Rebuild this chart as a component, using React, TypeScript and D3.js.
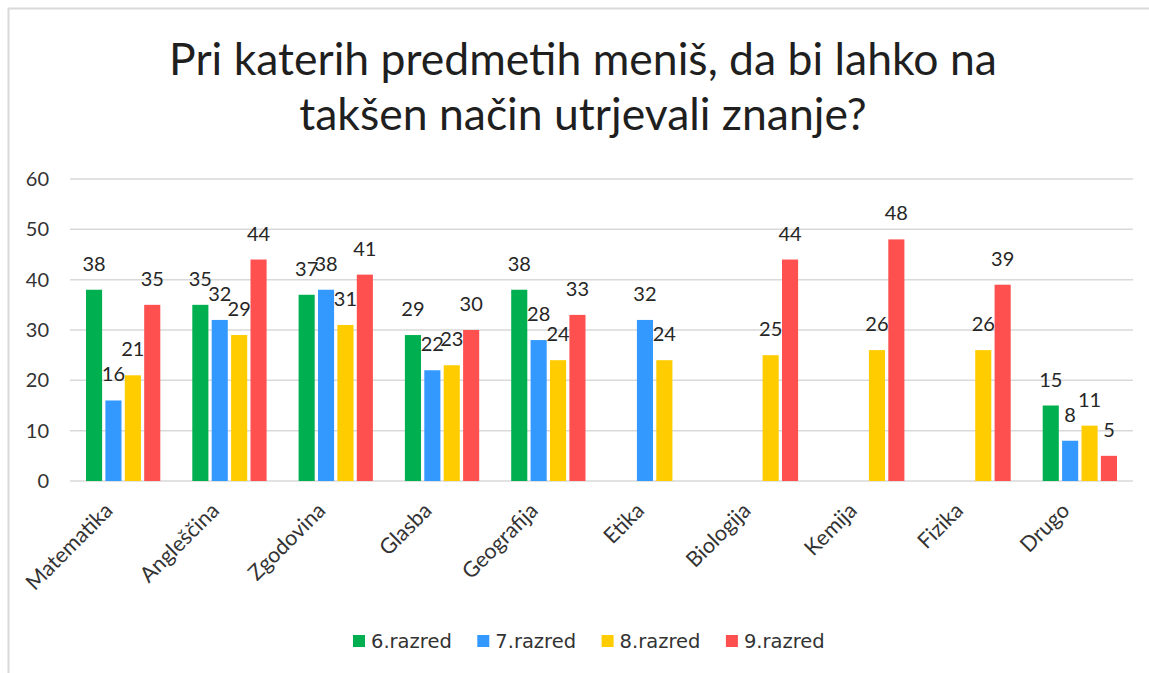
import React from 'react';
import * as d3 from 'd3';

const titleLines = ['Pri katerih predmetih meniš, da bi lahko na', 'takšen način utrjevali znanje?'];
const categories = ['Matematika', 'Angleščina', 'Zgodovina', 'Glasba', 'Geografija', 'Etika', 'Biologija', 'Kemija', 'Fizika', 'Drugo'];
const seriesNames = ['6.razred', '7.razred', '8.razred', '9.razred'];
const razred6: (number | null)[] = [38, 35, 37, 29, 38, null, null, null, null, 15];
const razred7: (number | null)[] = [16, 32, 38, 22, 28, 32, null, null, null, 8];
const razred8: (number | null)[] = [21, 29, 31, 23, 24, 24, 25, 26, 26, 11];
const razred9: (number | null)[] = [35, 44, 41, 30, 33, null, 44, 48, 39, 5];
const seriesColors = ['#00b050', '#3399ff', '#ffcc00', '#ff5050'];
const yTicks = [0, 10, 20, 30, 40, 50, 60];

const W = 1149;
const H = 673;
const labelFont = 'Lato, "Noto Sans", sans-serif';

export default function App() {
  const seriesValues = [razred6, razred7, razred8, razred9];
  const y = d3.scaleLinear().domain([0, 60]).range([481, 179]);
  const x0 = d3.scaleBand<string>().domain(categories).range([70, 1133]).padding(0);
  const x1 = d3
    .scaleBand<string>()
    .domain(seriesNames)
    .range([16, x0.bandwidth() - 16])
    .paddingInner(0.17);

  const legendX = d3.scaleLinear().domain([0, 1]).range([353, 477.3]);

  return (
    <svg width={W} height={H} style={{ position: 'absolute', left: 0, top: 0, display: 'block' }}>
      <rect x={0} y={0} width={W} height={H} fill="#ffffff" />
      <line x1={8} x2={W} y1={8.5} y2={8.5} stroke="#d9d9d9" strokeWidth={2} />
      <line x1={8.5} x2={8.5} y1={8} y2={H} stroke="#d9d9d9" strokeWidth={2} />

      {titleLines.map((t, i) => (
        <text
          key={t}
          x={583}
          y={75 + i * 55}
          textAnchor="middle"
          fontFamily={labelFont}
          fontSize={44.5}
          fill="#1f1f1f"
        >
          {t}
        </text>
      ))}

      {yTicks.map((t) => (
        <g key={t}>
          <line x1={70} x2={1133} y1={y(t)} y2={y(t)} stroke="#d9d9d9" strokeWidth={1.5} />
          <text
            x={49}
            y={y(t)}
            dy="0.35em"
            textAnchor="end"
            fontFamily={labelFont}
            fontSize={20}
            fill="#333333"
          >
            {t}
          </text>
        </g>
      ))}

      {categories.map((c, ci) => (
        <g key={c} transform={`translate(${x0(c)},0)`}>
          {seriesNames.map((s, si) => {
            const v = seriesValues[si][ci];
            if (v === null || v === undefined) return null;
            const bx = x1(s)!;
            const bw = x1.bandwidth();
            return (
              <g key={s}>
                <rect x={bx} y={y(v)} width={bw} height={y(0) - y(v)} fill={seriesColors[si]} />
                <text
                  x={bx + bw / 2}
                  y={y(v) - 19}
                  textAnchor="middle"
                  fontFamily={labelFont}
                  fontSize={20}
                  fill="#262626"
                >
                  {v}
                </text>
              </g>
            );
          })}
        </g>
      ))}

      {categories.map((c) => {
        const px = x0(c)! + x0.bandwidth() / 2 - 9;
        const py = 512;
        return (
          <text
            key={c}
            transform={`translate(${px},${py}) rotate(-45)`}
            textAnchor="end"
            fontFamily={labelFont}
            fontSize={21.5}
            fill="#333333"
          >
            {c}
          </text>
        );
      })}

      {seriesNames.map((s, i) => {
        const lx = legendX(i);
        return (
          <g key={s}>
            <rect x={lx} y={635} width={12} height={12} fill={seriesColors[i]} />
            <text
              x={lx + 18}
              y={648}
              fontFamily='"DejaVu Sans", sans-serif'
              fontSize={19.5}
              fill="#333333"
            >
              {s}
            </text>
          </g>
        );
      })}
    </svg>
  );
}
